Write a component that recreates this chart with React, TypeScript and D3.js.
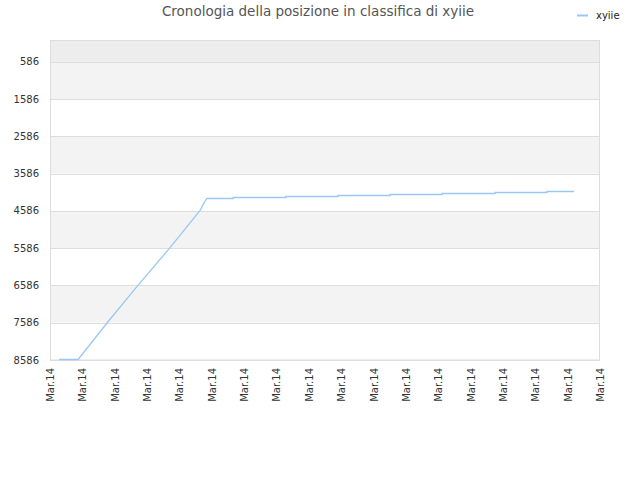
import React, { useEffect, useRef } from "react";
import * as d3 from "d3";

// timeline position (in tick units) and rank
const timeline = [0.28, 0.87, 1.78, 2.73, 3.71, 4.64, 4.73, 4.8, 4.85, 5.66, 5.66, 7.29, 7.29, 8.9, 8.9, 10.51, 10.51, 12.12, 12.12, 13.76, 13.76, 15.36, 15.36, 16.2];
const ranks = [8586, 8586, 7586, 6586, 5586, 4586, 4430, 4330, 4266, 4266, 4239, 4239, 4212, 4212, 4185, 4185, 4159, 4159, 4132, 4132, 4105, 4105, 4078, 4078];
const xTickLabels = Array.from({ length: 18 }, () => "Mar.14");
const yTicks = [586, 1586, 2586, 3586, 4586, 5586, 6586, 7586, 8586];
const seriesName = "xyiie";
const title = "Cronologia della posizione in classifica di xyiie";

const App = () => {
  const chartRef = useRef(null);
  const width = 640;
  const height = 480;
  const marginTop = 40;
  const marginRight = 40;
  const marginBottom = 120;
  const marginLeft = 50;
  const font = "DejaVu Sans, sans-serif";

  useEffect(() => {
    if (!chartRef.current) return;
    const svg = d3.select(chartRef.current);
    svg.selectAll("*").remove();

    const x = d3.scaleLinear([0, xTickLabels.length - 1], [marginLeft, width - marginRight]);
    const y = d3.scaleLinear([0, 8586], [marginTop, height - marginBottom]);

    // alternating bands
    const edges = [0, ...yTicks];
    for (let i = 0; i < edges.length - 1; i++) {
      const fill = i === 0 ? "#ededed" : i % 2 === 1 ? "#f3f3f3" : "#ffffff";
      svg
        .append("rect")
        .attr("x", marginLeft)
        .attr("y", y(edges[i]))
        .attr("width", width - marginLeft - marginRight)
        .attr("height", y(edges[i + 1]) - y(edges[i]))
        .attr("fill", fill);
    }

    // grid lines
    svg
      .append("g")
      .selectAll("line")
      .data(yTicks)
      .join("line")
      .attr("x1", marginLeft)
      .attr("x2", width - marginRight)
      .attr("y1", (d) => Math.round(y(d)) + 0.5)
      .attr("y2", (d) => Math.round(y(d)) + 0.5)
      .attr("stroke", "#dddddd");

    // frame
    svg
      .append("rect")
      .attr("x", marginLeft + 0.5)
      .attr("y", marginTop + 0.5)
      .attr("width", width - marginLeft - marginRight - 1)
      .attr("height", height - marginTop - marginBottom - 0.5)
      .attr("fill", "none")
      .attr("stroke", "#dddddd");

    // y labels
    svg
      .append("g")
      .selectAll("text")
      .data(yTicks)
      .join("text")
      .attr("x", marginLeft - 11)
      .attr("y", (d) => y(d))
      .attr("dy", "0.35em")
      .attr("text-anchor", "end")
      .attr("font-family", font)
      .attr("font-size", 10)
      .attr("fill", "#333")
      .text((d) => d);

    // x labels
    svg
      .append("g")
      .selectAll("text")
      .data(xTickLabels)
      .join("text")
      .attr("transform", (d, i) => `translate(${x(i) + 4},${height - marginBottom + 8}) rotate(-90)`)
      .attr("text-anchor", "end")
      .attr("font-family", font)
      .attr("font-size", 10)
      .attr("fill", "#333")
      .text((d) => d);

    // line
    const line = d3
      .line<number>()
      .x((d, i) => x(timeline[i]))
      .y((d) => y(d) - 0.5);
    svg
      .append("path")
      .attr("fill", "none")
      .attr("stroke", "#99c8f3")
      .attr("stroke-width", 1.3)
      .attr("d", line(ranks));

    // title
    svg
      .append("text")
      .attr("x", 318)
      .attr("y", 16)
      .attr("text-anchor", "middle")
      .attr("font-family", font)
      .attr("font-size", 13.5)
      .attr("fill", "#555")
      .text(title);

    // legend
    svg
      .append("line")
      .attr("x1", 577)
      .attr("x2", 588)
      .attr("y1", 15.5)
      .attr("y2", 15.5)
      .attr("stroke", "#99c8f3")
      .attr("stroke-width", 2);
    svg
      .append("text")
      .attr("x", 596)
      .attr("y", 19)
      .attr("font-family", font)
      .attr("font-size", 10)
      .attr("fill", "#222")
      .text(seriesName);
  }, []);

  return (
    <div style={{ position: "absolute", left: 0, top: 0 }}>
      <svg ref={chartRef} width={width} height={height} style={{ display: "block" }} />
    </div>
  );
};

export default App;
